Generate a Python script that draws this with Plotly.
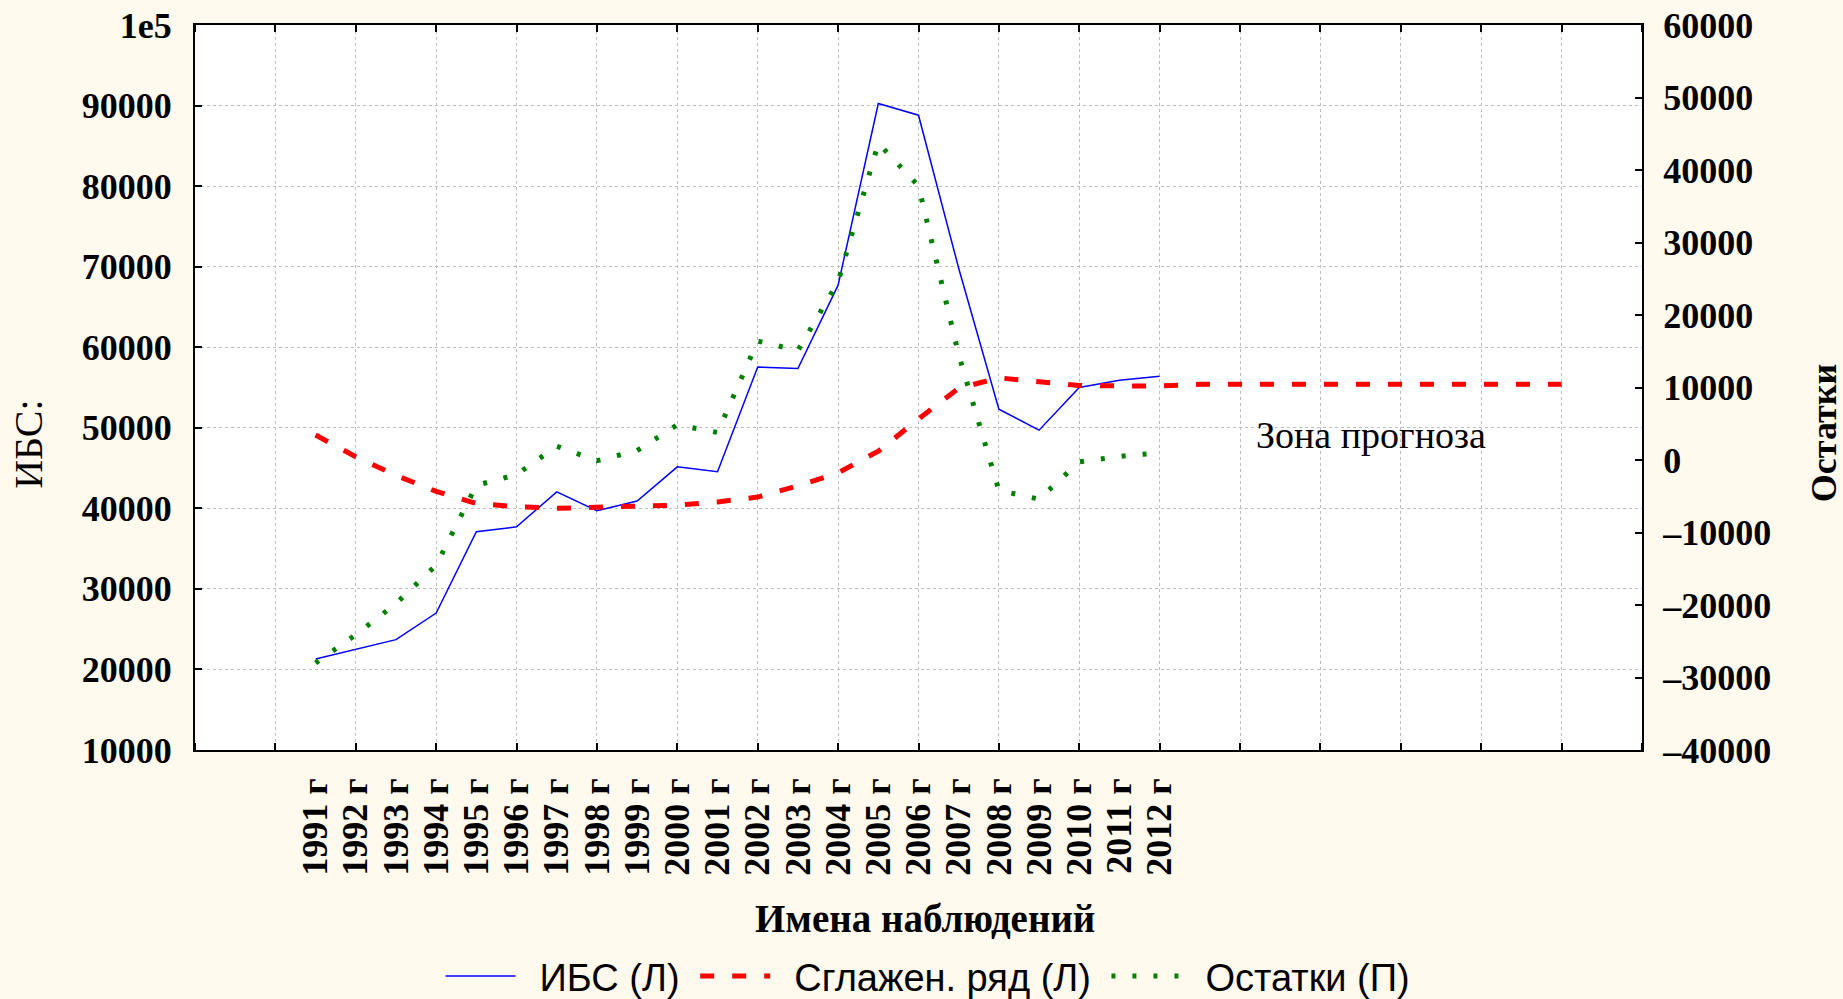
import plotly.graph_objects as go

# ---- data ----
years = list(range(1991, 2013))
year_labels = [f"{y} г" for y in years]
ibs = [21300, 22500, 23700, 27000, 37100, 37700, 42050, 39700, 40900, 45150,
       44550, 57550, 57350, 67700, 90250, 88800, 69800, 52300, 49700, 55000,
       55900, 56400]
smooth_years = list(range(1991, 2023))
smooth = [49100, 46400, 44100, 42100, 40600, 40200, 40000, 40100, 40200, 40400,
          40800, 41400, 42800, 44400, 47100, 51100, 54900, 56200, 55700, 55250,
          55200, 55200,
          55400, 55400, 55400, 55400, 55400, 55400, 55400, 55400, 55400, 55400]
resid = [-28000, -24100, -19800, -14500, -3500, -2000, 1900, -100, 1300, 4850,
         3800, 16400, 15100, 24600, 43700, 37800, 14500, -4200, -5400, -250,
         500, 1000]

left_ticks = list(range(10000, 100001, 10000))
left_ticktext = [str(v) for v in left_ticks[:-1]] + ["1e5"]
right_ticks = list(range(-40000, 60001, 10000))
right_ticktext = [str(v).replace("-", "–") for v in right_ticks]
grid_x = list(range(1988, 2025, 2))

serif = "Liberation Serif"
sans = "Liberation Sans"
bg = "#FFF9EE"
EN = "\u2002"

fig = go.Figure()
fig.add_trace(go.Scatter(x=years, y=ibs, name=EN + "ИБС (Л) ", mode="lines",
                         line=dict(color="#0000FF", width=1.5)))
fig.add_trace(go.Scatter(x=smooth_years, y=smooth, name=EN + "Сглажен. ряд (Л) ",
                         mode="lines",
                         line=dict(color="#FF0000", width=5, dash="14px,18px")))
fig.add_trace(go.Scatter(x=years, y=resid, name=EN + "Остатки (П)", mode="lines",
                         yaxis="y2",
                         line=dict(color="#008000", width=5, dash="4px,17px")))

tickfont = dict(family=serif, size=36, color="black", weight="bold")

fig.update_layout(
    width=1843, height=999,
    margin=dict(l=195, r=201, t=25, b=249, autoexpand=False),
    paper_bgcolor=bg, plot_bgcolor="white",
    showlegend=True,
    legend=dict(orientation="h", x=0.5066, y=-0.312, xanchor="center", yanchor="middle",
                font=dict(family=sans, size=38, color="black"), bgcolor="rgba(0,0,0,0)",
                itemwidth=70),
    xaxis=dict(range=[1988, 2024], tickmode="array", tickvals=years, ticktext=year_labels,
               tickangle=-90, tickfont=tickfont, ticks="", showgrid=False,
               showline=True, linecolor="black", linewidth=2, mirror="allticks",
               zeroline=False, ticklabelstandoff=12,
               minor=dict(tickmode="array", tickvals=grid_x, ticks="inside", ticklen=7,
                          tickwidth=2, tickcolor="black", showgrid=True,
                          gridcolor="#BDBDBD", griddash="dot", gridwidth=1)),
    yaxis=dict(range=[10000, 100000], tickmode="array", tickvals=left_ticks,
               ticktext=left_ticktext, tickfont=tickfont, ticks="inside", ticklen=7,
               tickwidth=2, tickcolor="black", showgrid=True, gridcolor="#BDBDBD",
               griddash="dot", gridwidth=1, showline=True, linecolor="black",
               linewidth=2, mirror=True, zeroline=False, ticklabelstandoff=14),
    yaxis2=dict(range=[-40000, 60000], overlaying="y", side="right", tickmode="array",
                tickvals=right_ticks, ticktext=right_ticktext, tickfont=tickfont,
                ticks="inside", ticklen=7,
                tickwidth=2, tickcolor="black", showgrid=False, showline=True,
                linecolor="black", linewidth=2, zeroline=False, ticklabelstandoff=12),
    annotations=[
        dict(text="Имена наблюдений", xref="paper", yref="paper", x=0.5045, y=-0.233,
             xanchor="center", yanchor="middle", showarrow=False,
             font=dict(family=serif, size=39, color="black", weight="bold")),
        dict(text="ИБС:", xref="paper", yref="paper", x=-0.1147, y=0.421, textangle=-90,
             xanchor="center", yanchor="middle", showarrow=False,
             font=dict(family=serif, size=40, color="black")),
        dict(text="Остатки", xref="paper", yref="paper", x=1.1258, y=0.437, textangle=-90,
             xanchor="center", yanchor="middle", showarrow=False,
             font=dict(family=serif, size=36, color="black", weight="bold")),
        dict(text="Зона прогноза", xref="x", yref="y", x=2017.25, y=49100,
             xanchor="center", yanchor="middle", showarrow=False,
             font=dict(family=serif, size=38, color="black")),
    ],
)

fig.write_html("out.html", config={"displayModeBar": False},
               post_script="document.body.style.margin='0px';")
